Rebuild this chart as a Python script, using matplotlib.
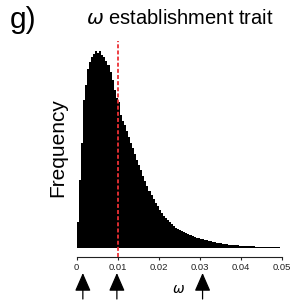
import numpy as np
import matplotlib
matplotlib.use("Agg")
import matplotlib.pyplot as plt

plt.rcParams['font.family'] = ['Liberation Sans', 'DejaVu Sans']

# Histogram of omega values (bin width 0.0005, starting at 0)
bin_width = 0.0005
freq = [26, 68, 105, 148, 163, 179, 186, 191, 194, 197,
        195, 197, 193, 191, 187, 183, 176, 168, 158, 150,
        146, 133, 127, 123, 117, 111, 105, 100, 94, 88,
        83, 78, 72, 67, 62, 57, 53, 49, 45, 42,
        38, 35, 32, 30, 28, 26, 24, 22, 20, 19,
        18, 17, 16, 15, 14, 13, 12, 11, 10.5, 10,
        9.5, 9, 8.5, 8, 7.5, 7, 6.5, 6, 5.5, 5,
        5, 4.5, 4, 4, 3.5, 3.5, 3, 3, 3, 2.5,
        2.5, 2.5, 2, 2, 2, 2, 2, 1.5, 1.5, 1.5,
        1.5, 1.5, 1.5, 1.5, 1.5, 1.5, 0.7, 0.6, 0.6, 0.5,
        0.5, 0.5, 0.5, 0.5]
edges = np.arange(len(freq) + 1) * bin_width

ref_value = 0.01
arrow_x = [0.0015, 0.0098, 0.0307]
tick_vals = [0, 0.01, 0.02, 0.03, 0.04, 0.05]
tick_labels = ['0', '0.01', '0.02', '0.03', '0.04', '0.05']

W, H = 292, 304
fig = plt.figure(figsize=(W / 100, H / 100), dpi=100)

# axes geometry in pixels
x0_px, scale = 76.7, 4100.0
xlim = (-0.0005, 0.0525)
left_px = x0_px + scale * xlim[0]
right_px = x0_px + scale * xlim[1]
bottom_px, top_px = 257, 41
ax = fig.add_axes([left_px / W, 1 - bottom_px / H,
                   (right_px - left_px) / W, (bottom_px - top_px) / H])

ax.stairs(freq, edges, fill=True, color='black', linewidth=0)
ax.axvline(ref_value, ymin=0, ymax=1, color='#ec3035', lw=1.3,
           dashes=(2.2, 1.2), zorder=3)

ax.set_xlim(*xlim)
ax.set_ylim(-9, 207)
for s in ['top', 'right', 'left']:
    ax.spines[s].set_visible(False)
ax.spines['bottom'].set_bounds(0, 0.05)
ax.spines['bottom'].set_linewidth(0.8)
ax.spines['bottom'].set_color('#222222')
ax.set_yticks([])
ax.set_xticks(tick_vals)
ax.set_xticklabels(tick_labels)
ax.tick_params(axis='x', direction='out', length=2.5, width=0.8,
               labelsize=6.8, pad=2, colors='#222222')

fig.text(10 / W, 1 - 20 / H, 'g)', fontsize=21.5, va='center', ha='left')
fig.text(180 / W, 1 - 19 / H, r'$\omega$ establishment trait',
         fontsize=14.5, va='center', ha='center')
fig.text(58 / W, 1 - 148 / H, 'Frequency', fontsize=15, rotation=90,
         va='center', ha='center')
fig.text(179 / W, 1 - 289 / H, r'$\omega$', fontsize=10,
         va='center', ha='center')

for xv in arrow_x:
    ax.annotate('', xy=(xv, 1 - 273 / H), xytext=(xv, 1 - 299 / H),
                xycoords=('data', 'figure fraction'),
                textcoords=('data', 'figure fraction'),
                arrowprops=dict(arrowstyle='-|>,head_length=0.8,head_width=0.35',
                                color='black', lw=0.9,
                                mutation_scale=14, shrinkA=0, shrinkB=0),
                annotation_clip=False)

fig.savefig('out.png', dpi=100)
